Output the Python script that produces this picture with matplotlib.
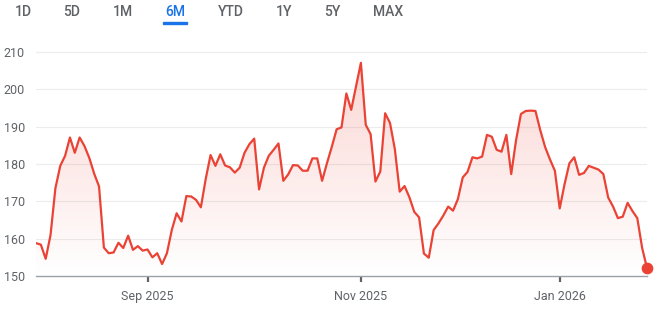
import matplotlib
matplotlib.use("Agg")
import matplotlib.pyplot as plt
import numpy as np
import pandas as pd
from matplotlib.colors import to_rgb

# closing prices, one per trading day
prices = [
    158.8, 158.4, 154.6, 161.0, 173.5, 179.5, 182.2, 187.1, 183.0, 187.1,
    184.8, 181.6, 177.4, 174.0, 157.6, 156.1, 156.3, 158.9, 157.5, 160.8,
    157.0, 158.0, 156.8, 157.1, 155.0, 156.1, 153.2, 156.1, 162.3, 166.8,
    164.6, 171.4, 171.3, 170.4, 168.4, 176.0, 182.4, 179.5, 182.6, 179.6,
    179.1, 177.7, 179.0, 183.0, 185.3, 186.8, 173.2, 179.0, 182.2, 183.8,
    185.5, 175.5, 177.2, 179.7, 179.6, 178.2, 178.2, 181.5, 181.5, 175.5,
    180.2, 184.6, 189.3, 189.8, 198.9, 194.5, 200.8, 207.1, 190.5, 188.0,
    175.3, 178.0, 193.6, 191.0, 184.0, 172.6, 174.1, 171.1, 167.2, 165.7,
    156.0, 154.9, 162.3, 164.1, 166.2, 168.6, 167.5, 170.6, 176.4, 177.9,
    181.8, 181.5, 182.0, 187.8, 187.3, 183.8, 183.3, 187.8, 177.3, 186.4,
    193.4, 194.2, 194.3, 194.2, 189.0, 184.5, 181.2, 178.2, 168.1, 174.6,
    180.2, 181.8, 177.1, 177.6, 179.5, 179.0, 178.5, 177.3, 171.0, 168.6,
    165.5, 165.9, 169.6, 167.4, 165.5, 157.5, 152.1,
]
market_holidays = ["2025-09-01", "2025-11-27", "2025-12-25", "2026-01-01", "2026-01-19"]
dates = pd.bdate_range("2025-07-30", periods=len(prices), freq="C", holidays=market_holidays)

month_ticks = ["2025-09-01", "2025-11-01", "2026-01-01"]
month_labels = ["Sep 2025", "Nov 2025", "Jan 2026"]
y_ticks = [150, 160, 170, 180, 190, 200, 210]

ranges = ["1D", "5D", "1M", "6M", "YTD", "1Y", "5Y", "MAX"]
selected = "6M"

red = "#ea4335"
grey = "#5f6368"

plt.rcParams["font.family"] = ["Roboto", "DejaVu Sans"]

fig = plt.figure(figsize=(6.62, 3.10), dpi=100)
ax = fig.add_axes([36 / 662, 1 - 276 / 310, 611 / 662, 235.2 / 310])

x = np.arange(len(prices))
ax.plot(x, prices, color=red, lw=1.6, solid_joinstyle="round", zorder=3)
ax.scatter([x[-1]], [prices[-1]], s=55, color=red, zorder=4, clip_on=False)

# gradient fill under the line
poly = ax.fill_between(x, prices, 150, color="none")
grad = np.zeros((256, 1, 4))
grad[:, :, :3] = to_rgb(red)
grad[:, 0, 3] = np.linspace(0.24, 0.0, 256)
img = ax.imshow(grad, extent=[0, len(prices) - 1, 150, 213], aspect="auto",
                origin="upper", zorder=2)
img.set_clip_path(poly.get_paths()[0], ax.transData)

ax.set_xlim(0, len(prices) - 1)
ax.set_ylim(150, 213)

tick_pos = [int(np.searchsorted(dates, pd.Timestamp(m))) for m in month_ticks]
ax.set_xticks(tick_pos)
ax.set_xticklabels(month_labels)
ax.set_yticks(y_ticks)
ax.set_yticklabels([str(v) for v in y_ticks])

ax.tick_params(axis="x", length=4, width=1.6, color=grey, pad=6,
               labelsize=9, labelcolor=grey)
ax.tick_params(axis="y", length=0, pad=8, labelsize=9, labelcolor=grey)

for v in y_ticks[1:]:
    ax.axhline(v, color="#ececec", lw=0.8, zorder=1)

for s in ["top", "right", "left"]:
    ax.spines[s].set_visible(False)
ax.spines["bottom"].set_color("#9aa0a6")
ax.spines["bottom"].set_linewidth(1.0)

# range selector tabs
tab_x = [23, 72, 123, 175, 231, 284, 332, 388]
for label, px in zip(ranges, tab_x):
    c = "#1a73e8" if label == selected else grey
    fig.text(px / 662, 1 - 12 / 310, label, ha="center", va="center",
             fontsize=10, fontweight="medium", color=c)
    if label == selected:
        fig.patches.append(plt.Rectangle(((px - 12) / 662, 1 - 24 / 310), 24 / 662, 2.5 / 310,
                                         transform=fig.transFigure, color=c))

fig.savefig("out.png", dpi=100)
